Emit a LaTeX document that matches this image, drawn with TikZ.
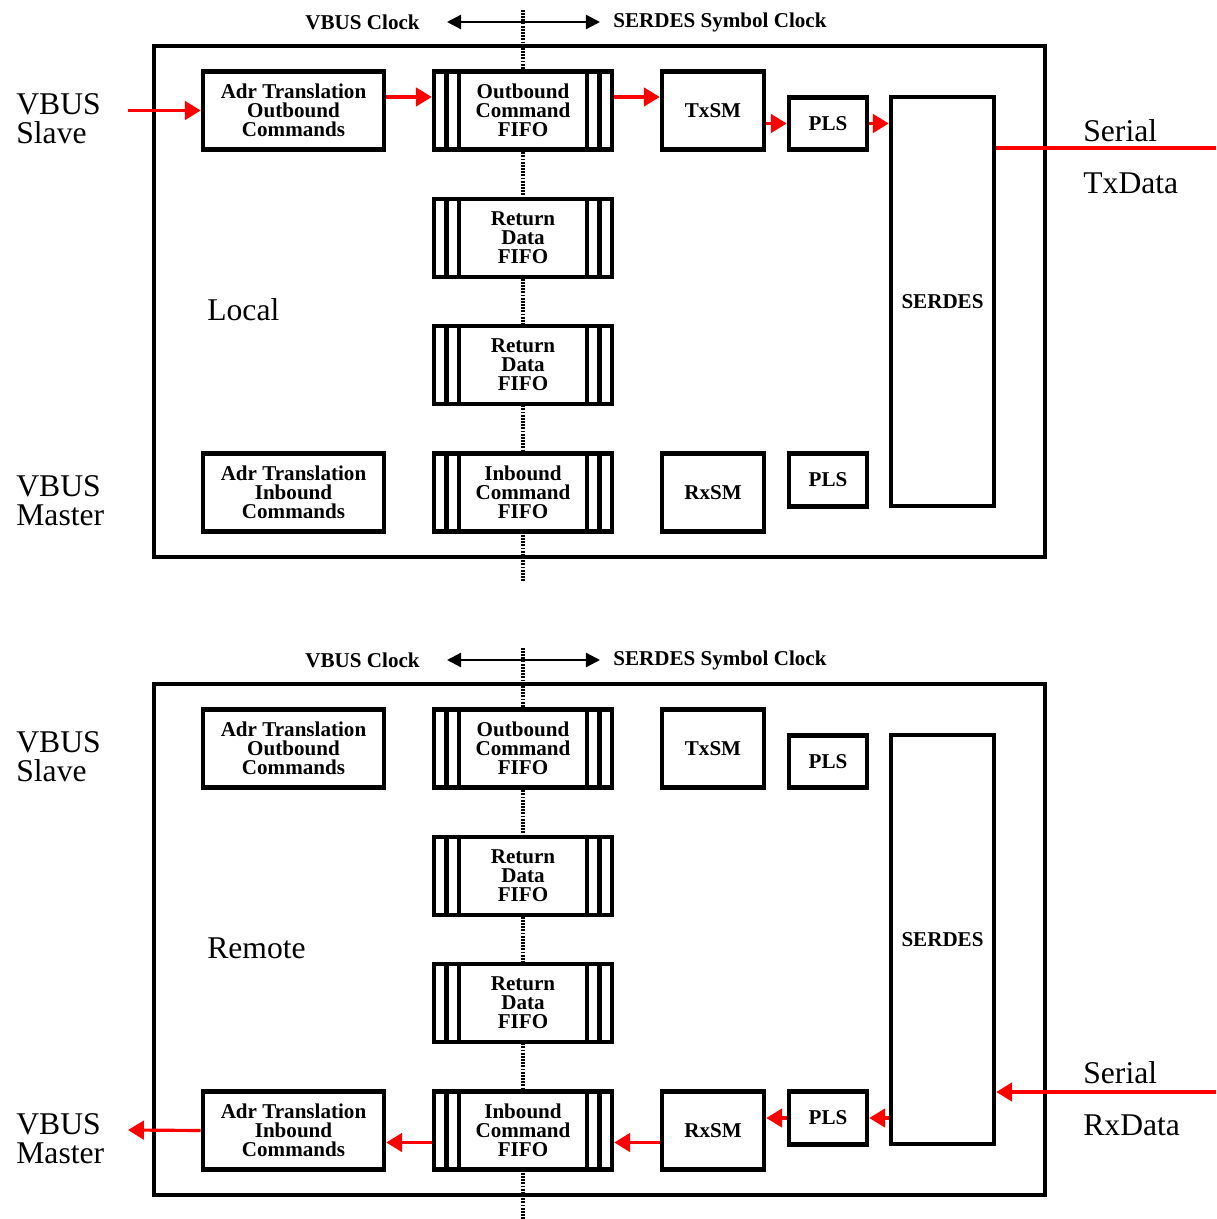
\documentclass[tikz,border=0pt]{standalone}
\usepackage{fontspec}
\setmainfont{Liberation Serif}
\usetikzlibrary{arrows.meta}
\tikzset{
  box/.style={draw, line width=2.6pt, fill=white, inner sep=0pt, align=center,
    font=\bfseries\fontsize{12}{10.8}\selectfont},
  adrsize/.style={minimum width=3.62cm, minimum height=1.56cm},
  smsize/.style={minimum width=2.04cm, minimum height=1.56cm},
  plssize/.style={minimum width=1.56cm, minimum height=1.05cm},
  fifo/.style={box, minimum width=3.56cm, minimum height=1.56cm,
    path picture={
      \foreach \d in {0.25cm,0.5cm}{
        \draw[line width=2.4pt] ([xshift=\d]path picture bounding box.north west) -- ([xshift=\d]path picture bounding box.south west);
        \draw[line width=2.4pt] ([xshift=-\d]path picture bounding box.north east) -- ([xshift=-\d]path picture bounding box.south east);
      }}},
  bigtext/.style={font=\fontsize{18}{16.5}\selectfont, align=left, inner sep=0pt, anchor=west},
  hdr/.style={font=\bfseries\fontsize{12}{14}\selectfont, inner sep=0pt},
  redarrow/.style={draw=red, line width=1.8pt, -{Triangle[length=9pt,width=10.5pt]}},
  redline/.style={draw=red, line width=2.8pt},
  clockarrow/.style={line width=1.3pt, {Triangle[length=8pt,width=8pt]}-{Triangle[length=8pt,width=8pt]}},
  dotline/.style={line width=2.2pt, dash pattern=on 1pt off 0.8pt},
  frame/.style={line width=2.4pt}
}
\newcommand\mypanel[3]{%
\begin{scope}[shift={(0,#2)}]
  \coordinate (dtop#1) at (523,10);
  \coordinate (dbot#1) at (523,582);
  \draw[dotline] (dtop#1) -- (dbot#1);
  \draw[frame] (154,46) rectangle (1045,557);
  \node[hdr, anchor=east] (vclk#1) at (420,22) {VBUS Clock};
  \node[hdr, anchor=west] (sclk#1) at (613,22) {SERDES Symbol Clock};
  \draw[clockarrow] ([xshift=0.54cm]vclk#1.east) -- ([xshift=-0.26cm]sclk#1.west);
  \node[box, adrsize] (adrO#1) at (293.5,110.5) {Adr Translation\\Outbound\\Commands};
  \node[fifo] (fifoO#1) at (523,110.5) {Outbound\\Command\\FIFO};
  \node[fifo] (retA#1) at (523,238) {Return\\Data\\FIFO};
  \node[fifo] (retB#1) at (523,365) {Return\\Data\\FIFO};
  \node[box, adrsize] (adrI#1) at (293.5,492.5) {Adr Translation\\Inbound\\Commands};
  \node[fifo] (fifoI#1) at (523,492.5) {Inbound\\Command\\FIFO};
  \node[box, smsize] (txsm#1) at (713,110.5) {TxSM};
  \node[box, plssize] (plsT#1) at (828,123.5) {PLS};
  \node[box, minimum width=2.06cm, minimum height=8.18cm] (serdes#1) at (942.5,301.5) {SERDES};
  \node[box, smsize] (rxsm#1) at (713,492.5) {RxSM};
  \node[box, plssize] (plsB#1) at (828,480) {PLS};
  \node[bigtext] (slave#1) at (16,119) {VBUS\\Slave};
  \node[bigtext] (master#1) at (16,501) {VBUS\\Master};
  \node[bigtext] (place#1) at (207,310) {#3};
\end{scope}}
\begin{document}
\begin{tikzpicture}[x=0.02cm,y=-0.02cm]
  \useasboundingbox (0,0) rectangle (1216,1219);
  % ---------- top panel: Local ----------
  \mypanel{T}{0}{Local}
  \coordinate (sinT) at (128,110.5);
  \draw[redarrow] (sinT) -- (adrOT.west);
  \draw[redarrow] ([yshift=0.27cm]adrOT.east) -- ([yshift=0.27cm]fifoOT.west);
  \draw[redarrow] ([yshift=0.27cm]fifoOT.east) -- ([yshift=0.27cm]txsmT.west);
  \draw[redarrow] (txsmT.east |- plsTT.west) -- (plsTT.west);
  \draw[redarrow] (plsTT.east) -- (serdesT.west |- plsTT.east);
  \coordinate (txout) at (1216,148);
  \draw[redline] (serdesT.east |- txout) -- (txout);
  \node[bigtext] (serialT) at (1083,131) {Serial};
  \node[bigtext] (txdata) at (1083,183) {TxData};
  % ---------- bottom panel: Remote ----------
  \mypanel{B}{638}{Remote}
  \coordinate (rxin) at (1216,1092);
  \draw[redarrow] (rxin) -- (serdesB.east |- rxin);
  \draw[redarrow] (serdesB.west |- plsBB.east) -- (plsBB.east);
  \draw[redarrow] (plsBB.west) -- (rxsmB.east |- plsBB.west);
  \draw[redarrow] ([yshift=-0.24cm]rxsmB.west) -- ([yshift=-0.24cm]fifoIB.east);
  \draw[redarrow] ([yshift=-0.24cm]fifoIB.west) -- ([yshift=-0.24cm]adrIB.east);
  \coordinate (mout) at (128,1130);
  \draw[redarrow] (adrIB.west) -- (mout);
  \node[bigtext] (serialB) at (1083,1073) {Serial};
  \node[bigtext] (rxdata) at (1083,1125) {RxData};
\end{tikzpicture}
\end{document}
